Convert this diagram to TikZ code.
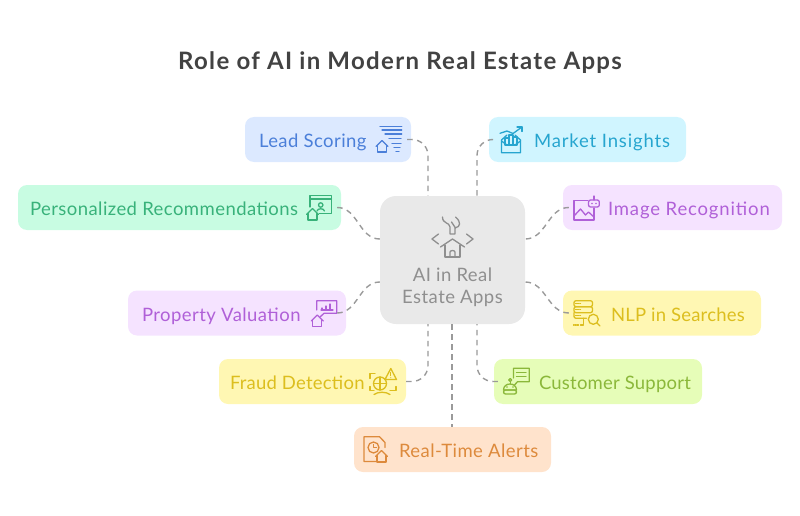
\documentclass[tikz,border=0pt]{standalone}
\usepackage{fontspec}
\setmainfont{Lato}
\newfontface\cardface[LetterSpace=2.4]{Lato}
\newfontface\cardtight[LetterSpace=1.2]{Lato}
\newfontface\cardwide[LetterSpace=4.6]{Lato}
\newfontface\titleface[LetterSpace=5.5]{Lato Bold}
\usetikzlibrary{positioning}
\definecolor{leadfill}{HTML}{DCE9FF}
\definecolor{leadink}{HTML}{4B7FD9}
\definecolor{marketfill}{HTML}{D0F5FF}
\definecolor{marketink}{HTML}{26A5CF}
\definecolor{recofill}{HTML}{C8FCE2}
\definecolor{recoink}{HTML}{38B27A}
\definecolor{violetfill}{HTML}{F5E3FF}
\definecolor{violetink}{HTML}{B060D8}
\definecolor{yellowfill}{HTML}{FFF7B3}
\definecolor{yellowink}{HTML}{DCBE1E}
\definecolor{supportfill}{HTML}{E6FDB8}
\definecolor{supportink}{HTML}{8BB83A}
\definecolor{alertfill}{HTML}{FFE3CC}
\definecolor{alertink}{HTML}{DD8A3C}
\definecolor{corefill}{HTML}{E9E9E9}
\definecolor{coreink}{HTML}{8F8F8F}
\definecolor{titleink}{HTML}{424242}
\definecolor{linkink}{HTML}{9A9A9A}
\tikzset{
	card/.style = {rounded corners=9pt, minimum height=45pt, inner sep=0pt},
	cardtext/.style = {inner sep=0pt, font=\cardface\fontsize{18.5}{22}\selectfont, text height=16pt, text depth=0pt},
	tighttext/.style = {cardtext, font=\cardtight\fontsize{18.5}{22}\selectfont},
	widetext/.style = {cardtext, font=\cardwide\fontsize{18.5}{22}\selectfont},
	link/.style = {draw=linkink, line width=1.4pt, dash pattern=on 5.5pt off 4.5pt},
	iconline/.style = {line width=1.3pt, line cap=round, line join=round},
	pics/tinyhouse/.style = {code={
		\draw (-6,0) -- (0,-6) -- (6,0);
		\draw (-4.5,-1) -- (-4.5,5.5) -- (4.5,5.5) -- (4.5,-1);
	}},
	pics/funnelicon/.style = {code={
		\draw (-9,-13.3) -- (12.7,-13.3);
		\draw (-7,-10) -- (12.7,-10);
		\draw (-4,-6) -- (12.7,-6);
		\draw (0,-1.7) -- (12,-1.7);
		\draw (3,3.3) -- (12,3.3);
		\draw (5,7.3) -- (11,7.3);
		\draw (7,11.7) -- (10,11.7);
		\pic at (-7,6.5) {tinyhouse};
	}},
	pics/marketicon/.style = {code={
		\draw (-9.5,0) -- (-9.5,12.7) -- (9.5,12.7) -- (9.5,0) -- (4,-5);
		\draw (-9.5,0) -- (-4,-5);
		\draw (-9.5,1) -- (-4,5) -- (4,5) -- (9.5,1);
		\draw (-6,-2) rectangle (-2,5);
		\draw (-2,-5) rectangle (2,5);
		\draw (2,-3) rectangle (6,5);
		\draw (-11,-6.7) -- (-4,-9) -- (2,-6.5) -- (11,-13);
		\draw (6,-13) -- (11,-13) -- (11,-8.5);
	}},
	pics/windowicon/.style = {code={
		\draw (-9.5,-1) -- (-9.5,-12.3) -- (12,-12.3) -- (12,5.3) -- (0,5.3);
		\draw (-9.5,-9) -- (12,-9);
		\draw (1.2,-3) circle (2.2);
		\draw (-2.5,3) .. controls (-2,0) and (4.5,0) .. (5,3);
		\pic at (-7,6.5) {tinyhouse};
	}},
	pics/pictureicon/.style = {code={
		\draw (1,-7.3) -- (-12.5,-7.3) -- (-12.5,12) -- (7.5,12) -- (7.5,0);
		\draw (-12.5,8) -- (-6,1) -- (-1,7) -- (2,4) -- (7.5,9);
		\draw[rounded corners=2pt] (2,-8) rectangle (12.8,-1);
		\draw (7.4,-8) -- (7.4,-12);
		\fill (5.5,-4.5) circle (0.8);
		\fill (9.5,-4.5) circle (0.8);
	}},
	pics/valueicon/.style = {code={
		\draw (-7.3,-3) -- (-7.3,-12.3) -- (12.7,-12.3) -- (12.7,0.3) -- (0,0.3) -- (-4,4);
		\draw (-2,-3) -- (-2,-5);
		\draw (2,-3) -- (2,-7);
		\draw (6,-3) -- (6,-9);
		\draw (-3,-3) -- (9,-3);
		\pic at (-6.7,8) {tinyhouse};
	}},
	pics/fraudicon/.style = {code={
		\draw (-3,2) circle (6.5);
		\draw (-9.5,2) -- (3.5,2);
		\draw (-3,-4.5) -- (-3,8.5);
		\draw (-13,-3) -- (-13,-8) -- (-8,-8);
		\draw (-13,5) -- (-13,9) -- (-9,9);
		\draw (13,5) -- (13,9) -- (7,9);
		\draw (-9,13) .. controls (-5,10) and (3,10) .. (7,13);
		\draw[fill=yellowfill] (7.8,-13) -- (13.5,-2) -- (2,-2) -- cycle;
		\draw (7.8,-9) -- (7.8,-6);
		\fill (7.8,-3.8) circle (0.6);
	}},
	pics/servericon/.style = {code={
		\draw[rounded corners=2pt] (-12.5,-12.3) rectangle (6,-6.3);
		\draw[rounded corners=2pt] (-12.5,-6.3) rectangle (6,-0.3);
		\draw[rounded corners=2pt] (-12.5,-0.3) -- (-12.5,5.3) -- (0,5.3);
		\draw[densely dotted] (-11,-9.3) -- (-6,-9.3);
		\draw[densely dotted] (-11,-3.3) -- (-6,-3.3);
		\draw[densely dotted] (-11,2.5) -- (-6,2.5);
		\draw (-3,5.3) -- (-3,12) -- (-6,12);
		\draw[densely dotted] (-8,12) -- (-13,12);
		\draw (6.8,6.3) circle (5);
		\draw (10.5,10) -- (13.5,13);
	}},
	pics/supporticon/.style = {code={
		\draw (-3,-3) -- (-3,-12.7) -- (12.8,-12.7) -- (12.8,0.7) -- (1,0.7) -- (-2,4);
		\draw (0,-8.5) -- (9.5,-8.5);
		\draw (0,-4.5) -- (9.5,-4.5);
		\draw (-6.3,-1) circle (1.5);
		\draw (-6.3,0.7) -- (-6.3,3);
		\draw (-13,9) .. controls (-13,1) and (0,1) .. (0,9) -- cycle;
		\draw[rounded corners=2pt] (-13,9) rectangle (0,13);
		\fill (-9.5,6) circle (0.8);
		\fill (-3.5,6) circle (0.8);
	}},
	pics/alerticon/.style = {code={
		\draw (0,12) -- (-12.5,12) -- (-12.5,-12.8) -- (3,-12.8) -- (8.5,-7) -- (8.5,-2);
		\draw (-3,-2) circle (5.5);
		\draw (-3,-5) -- (-3,-2) -- (0,-2);
		\pic at (5,7) {tinyhouse};
	}},
	pics/coreicon/.style = {code={
		\draw (-14,-3) -- (-20.5,2) -- (-14,7);
		\draw (14,-3) -- (20.5,2) -- (14,7);
		\draw (-12,10) -- (0,2) -- (12,10);
		\draw (-7.5,8) -- (-7.5,20) -- (7.5,20) -- (7.5,8);
		\draw (-2.5,20) -- (-2.5,15) .. controls (-2,13) and (2,13) .. (2.5,15) -- (2.5,20);
		\draw (-10,-20) .. controls (-10,-13) and (-3,-15) .. (-2.5,-10) -- (-2.5,-3) -- (2.5,-3) -- (2.5,-9) .. controls (8,-10) and (9,-15) .. (3,-20);
		\draw (-1,-15) -- (3,-9);
	}},
}
\begin{document}
\begin{tikzpicture}[x=1pt, y=-1pt]
	\useasboundingbox (0,0) rectangle (800,516);
	\node[inner sep=0pt, text=titleink, font=\titleface\fontsize{24}{28}\selectfont] (title) at (400,62.5) {Role of AI in Modern Real Estate Apps};

	\node[card, fill=corefill, minimum width=145pt, minimum height=128pt, rounded corners=16pt] (core) at (452.5,260) {};
	\node[card, fill=leadfill, minimum width=166pt] (lead) at (328,139.5) {};
	\node[card, fill=marketfill, minimum width=197pt] (market) at (587.5,139.5) {};
	\node[card, fill=recofill, minimum width=323pt] (reco) at (179.5,207.5) {};
	\node[card, fill=violetfill, minimum width=219pt] (image) at (672.5,207.5) {};
	\node[card, fill=violetfill, minimum width=218pt] (value) at (237,313) {};
	\node[card, fill=yellowfill, minimum width=198pt] (nlp) at (662,313) {};
	\node[card, fill=yellowfill, minimum width=187pt] (fraud) at (312.5,381.5) {};
	\node[card, fill=supportfill, minimum width=208pt] (support) at (598,381.5) {};
	\node[card, fill=alertfill, minimum width=197pt] (alert) at (452.5,449.5) {};

	% labels
	\node[cardtext, text=leadink, right=14pt of lead.west] (leadtext) {Lead Scoring};
	\node[widetext, text=marketink, right=45pt of market.west] (markettext) {Market Insights};
	\node[cardtext, text=recoink, right=12pt of reco.west] (recotext) {Personalized Recommendations};
	\node[widetext, text=violetink, right=45pt of image.west] (imagetext) {Image Recognition};
	\node[cardtext, text=violetink, right=14pt of value.west] (valuetext) {Property Valuation};
	\node[tighttext, text=yellowink, right=48pt of nlp.west] (nlptext) {NLP in Searches};
	\node[tighttext, text=yellowink, right=11pt of fraud.west] (fraudtext) {Fraud Detection};
	\node[tighttext, text=supportink, right=45pt of support.west] (supporttext) {Customer Support};
	\node[cardtext, text=alertink, right=45pt of alert.west] (alerttext) {Real-Time Alerts};
	\node[cardtext, text=coreink, align=center, text height=, text depth=, font=\cardface\fontsize{18.5}{21.5}\selectfont] (coretext) at ([yshift=-27.5pt]core.center) {AI in Real\\Estate Apps};

	% icons
	\pic[iconline, leadink] (leadicon) at (389,140) {funnelicon};
	\pic[iconline, marketink] (marketicon) at (511,140) {marketicon};
	\pic[iconline, recoink] (recoicon) at (319.5,208) {windowicon};
	\pic[iconline, violetink] (imageicon) at (586.5,208) {pictureicon};
	\pic[iconline, violetink] (valueicon) at (324,313) {valueicon};
	\pic[iconline, yellowink] (nlpicon) at (586.5,313) {servericon};
	\pic[iconline, yellowink] (fraudicon) at (383,381.5) {fraudicon};
	\pic[iconline, supportink] (supporticon) at (516.5,381) {supporticon};
	\pic[iconline, alertink] (alerticon) at (376.5,449.5) {alerticon};
	\pic[iconline, coreink] (coreicon) at (452.5,237) {coreicon};

	% connectors
	\draw[link, rounded corners=16pt] ([xshift=-4pt]lead.east) -| ([xshift=-24.5pt]core.north);
	\draw[link, rounded corners=16pt] ([xshift=4pt]market.west) -| ([xshift=24.5pt]core.north);
	\draw[link] ([xshift=-4pt]reco.east) to[out=0, in=180] ([yshift=21pt]core.west);
	\draw[link] ([xshift=6pt]image.west) to[out=180, in=0] ([yshift=21pt]core.east);
	\draw[link] ([xshift=-9pt]value.east) to[out=0, in=180] ([yshift=-22pt]core.west);
	\draw[link] ([xshift=6pt]nlp.west) to[out=180, in=0] ([yshift=-22pt]core.east);
	\draw[link, rounded corners=16pt] (fraud.east) -| ([xshift=-24.5pt]core.south);
	\draw[link, rounded corners=16pt] ([xshift=4pt]support.west) -| ([xshift=24.5pt]core.south);
	\draw[link] ([xshift=-0.5pt]core.south) -- ([xshift=-0.5pt]alert.north);
\end{tikzpicture}
\end{document}
